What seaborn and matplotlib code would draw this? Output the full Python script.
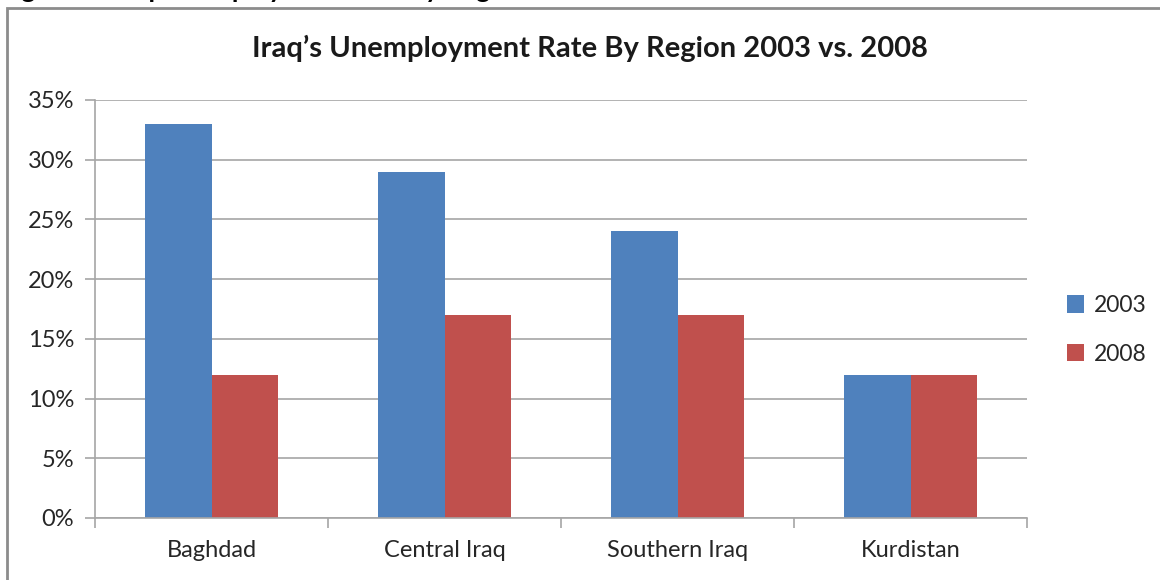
import matplotlib
matplotlib.use("Agg")
import matplotlib.pyplot as plt
import seaborn as sns
import pandas as pd
from matplotlib.patches import Rectangle
from matplotlib.ticker import FuncFormatter, MultipleLocator

regions = ["Baghdad", "Central Iraq", "Southern Iraq", "Kurdistan"]
years = ["2003", "2008"]
rate_2003 = [33, 29, 24, 12]
rate_2008 = [12, 17, 17, 12]
colors = ["#4F81BD", "#C0504D"]

df = pd.DataFrame({
    "Region": regions * 2,
    "Year": [years[0]] * 4 + [years[1]] * 4,
    "Rate": rate_2003 + rate_2008,
})

sns.set_theme(style="white")
plt.rcParams["font.family"] = ["Lato", "DejaVu Sans"]

W, H = 1160, 580
fig = plt.figure(figsize=(W / 100, H / 100), dpi=100)
ax = fig.add_axes([95 / W, 1 - 518 / H, (1027 - 95) / W, (518 - 100) / H])

sns.barplot(data=df, x="Region", y="Rate", hue="Year", palette=colors,
            width=0.575, gap=0, saturation=1, linewidth=0, ax=ax, legend=True)

ax.set_ylim(0, 35)
ax.set_xlim(-0.5, 3.5)
ax.yaxis.set_major_locator(MultipleLocator(5))
ax.yaxis.set_major_formatter(FuncFormatter(lambda v, p: f"{int(round(v))}%"))
ax.set_xlabel("")
ax.set_ylabel("")
ax.grid(axis="y", color="#A6A6A6", linewidth=1.2)
ax.set_axisbelow(True)
for s in ["top", "right"]:
    ax.spines[s].set_visible(False)
for s in ["left", "bottom"]:
    ax.spines[s].set_color("#A6A6A6")
    ax.spines[s].set_linewidth(1.2)

ax.set_xticks([0, 1, 2, 3])
ax.set_xticklabels(regions)
ax.set_xticks([-0.5, 0.5, 1.5, 2.5, 3.5], minor=True)
ax.tick_params(axis="x", which="major", length=0, pad=16, labelsize=17, labelcolor="#262626")
ax.tick_params(axis="x", which="minor", length=7, width=1.2, color="#A6A6A6", direction="out", bottom=True)
ax.tick_params(axis="y", which="major", length=7, width=1.2, color="#A6A6A6", direction="out", left=True,
               labelsize=17, labelcolor="#262626", pad=8)

leg = ax.legend(loc="center left", bbox_to_anchor=(1.021, 0.45), frameon=False,
                fontsize=16.5, handlelength=0.75, handleheight=0.8, handletextpad=0.4,
                labelspacing=1.2)
for t in leg.get_texts():
    t.set_color("#262626")

fig.text(590 / W, 1 - 48 / H, "Iraq\u2019s Unemployment Rate By Region 2003 vs. 2008",
         ha="center", va="center", fontsize=21, fontweight="bold", color="#1a1a1a")

# caption above the chart frame, clipped by the top edge as in the reference
fig.text(0 / W, 1 + 2 / H, "Figure 2: Iraq Unemployment Rate by Region",
         ha="left", va="baseline", fontsize=19, fontweight="bold", color="black")

fig.patches.append(Rectangle((7 / W, -0.1), 1.2, 1 - 8 / H + 0.1, transform=fig.transFigure,
                             fill=False, edgecolor="#8C8C8C", linewidth=2, zorder=0))

fig.savefig("out.png", dpi=100)
